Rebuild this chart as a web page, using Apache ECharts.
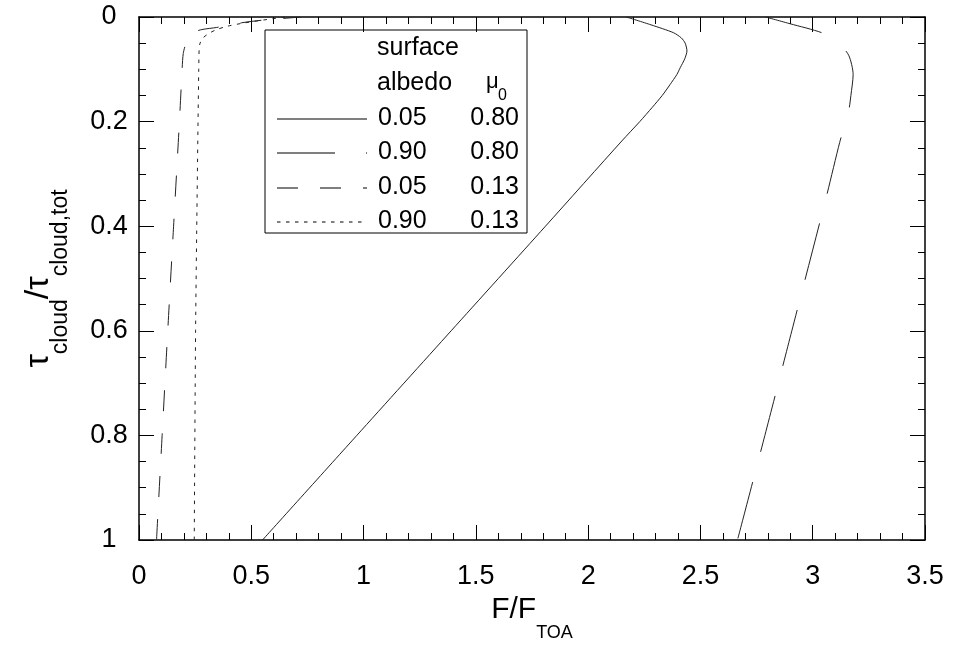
<!DOCTYPE html>
<html>
<head>
<meta charset="utf-8">
<script src="https://cdn.jsdelivr.net/npm/echarts@6/dist/echarts.min.js"></script>
<style>
  html, body { margin: 0; padding: 0; background: #fff; }
  #chart { width: 960px; height: 656px; }
</style>
</head>
<body>
<div id="chart"></div>
<script>
// tick labels / axis ranges
var xTicks = [0, 0.5, 1, 1.5, 2, 2.5, 3, 3.5];
var yTicks = [0, 0.2, 0.4, 0.6, 0.8, 1];

// legend table
var albedoCol = ['0.05', '0.90', '0.05', '0.90'];
var mu0Col = ['0.80', '0.80', '0.13', '0.13'];

// curve 1: albedo 0.05, mu0 0.80 (solid)
var tau1 = [1, 0.8, 0.6, 0.4, 0.237, 0.2, 0.173, 0.15, 0.129, 0.11, 0.097, 0.08, 0.065, 0.05, 0.04, 0.03, 0.015, 0];
var flux1 = [0.55, 0.97, 1.39, 1.81, 2.15, 2.23, 2.285, 2.33, 2.365, 2.395, 2.41, 2.43, 2.44, 2.432, 2.415, 2.38, 2.28, 2.17];

// curve 2: albedo 0.90, mu0 0.80 (long dash + short)
var tau2 = [0, 0.013, 0.03, 0.048, 0.073, 0.11, 0.15, 0.18, 0.24, 0.345, 0.6, 0.8, 1];
var flux2 = [2.79, 2.90, 3.04, 3.11, 3.16, 3.18, 3.17, 3.16, 3.12, 3.06, 2.907, 2.787, 2.665];

// curve 3: albedo 0.05, mu0 0.13 (dashed)
var tau3 = [1, 0.8, 0.6, 0.4, 0.2, 0.1, 0.07, 0.05, 0.03, 0.024, 0.02, 0.011, 0.006, 0.0025, 0];
var flux3 = [0.078, 0.103, 0.128, 0.154, 0.18, 0.192, 0.197, 0.21, 0.242, 0.28, 0.346, 0.457, 0.55, 0.65, 0.72];

// curve 4: albedo 0.90, mu0 0.13 (dotted)
var tau4 = [1, 0.6, 0.3, 0.1, 0.06, 0.05, 0.04, 0.032, 0.025, 0.018, 0.012, 0.006, 0];
var flux4 = [0.246, 0.252, 0.26, 0.266, 0.268, 0.272, 0.285, 0.309, 0.34, 0.39, 0.46, 0.55, 0.65];

var dashes = ['solid', [58, 31], [21, 22], [3.5, 5.5]];
var curves = [[flux1, tau1], [flux2, tau2], [flux3, tau3], [flux4, tau4]];

var FONT = '"Liberation Sans", Arial, Helvetica, sans-serif';

function zip(xs, ys) {
  return xs.map(function (x, i) { return [x, ys[i]]; });
}

var chart = echarts.init(document.getElementById('chart'));

var series = curves.map(function (c, i) {
  return {
    type: 'line',
    data: zip(c[0], c[1]),
    showSymbol: false,
    symbol: 'none',
    smooth: 0.25,
    lineStyle: { color: '#222', width: 1, type: dashes[i] },
    z: 2
  };
});

function axisBase(extra) {
  var a = {
    type: 'value',
    axisLine: { show: true, onZero: false, lineStyle: { color: '#000', width: 1.5 } },
    axisTick: { show: true, inside: true, length: 15, lineStyle: { color: '#000', width: 1 } },
    minorTick: { show: true, length: 7, lineStyle: { color: '#000', width: 1 } },
    splitLine: { show: false },
    minorSplitLine: { show: false }
  };
  return Object.assign(a, extra);
}

// legend drawn as a small table
var LF = '25px ' + FONT;
var legendItems = [
  { type: 'rect', shape: { x: 265, y: 30, width: 262, height: 203 },
    style: { fill: '#fff', stroke: '#000', lineWidth: 1 } },
  { type: 'text', x: 377, y: 48, style: { text: 'surface', font: LF, fill: '#000', verticalAlign: 'middle' } },
  { type: 'text', x: 377, y: 83, style: { text: 'albedo', font: LF, fill: '#000', verticalAlign: 'middle' } },
  { type: 'text', x: 486, y: 82, style: { text: 'μ', font: '22px ' + FONT, fill: '#000', verticalAlign: 'middle' } },
  { type: 'text', x: 498, y: 96, style: { text: '0', font: '16px ' + FONT, fill: '#000', verticalAlign: 'middle' } }
];
var rowY = [118, 152, 187, 221];
albedoCol.forEach(function (a, i) {
  legendItems.push({ type: 'line', shape: { x1: 277, y1: rowY[i] + 1, x2: 367, y2: rowY[i] + 1 },
    style: { stroke: '#000', lineWidth: 1.2, lineDash: dashes[i] === 'solid' ? null : dashes[i] } });
  legendItems.push({ type: 'text', x: 378, y: rowY[i], style: { text: a, font: LF, fill: '#000', verticalAlign: 'middle' } });
  legendItems.push({ type: 'text', x: 519, y: rowY[i], style: { text: mu0Col[i], font: LF, fill: '#000', align: 'right', verticalAlign: 'middle' } });
});

var option = {
  animation: false,
  backgroundColor: '#fff',
  grid: { left: 139, right: 35, top: 17, bottom: 116, containLabel: false, outerBoundsMode: 'none' },
  xAxis: [
    axisBase({
      position: 'bottom', min: xTicks[0], max: xTicks[xTicks.length - 1], interval: xTicks[1] - xTicks[0],
      minorTick: { show: true, splitNumber: 5, length: 7, lineStyle: { color: '#000', width: 1 } },
      axisLabel: { fontSize: 27, color: '#000', fontFamily: FONT, margin: 23 },
      name: '{m|F/F}{s|TOA}', nameLocation: 'middle', nameGap: 52,
      nameTextStyle: {
        rich: {
          m: { fontSize: 30, fontFamily: FONT, color: '#000', lineHeight: 47, verticalAlign: 'top' },
          s: { fontSize: 18, fontFamily: FONT, color: '#000', lineHeight: 20, verticalAlign: 'bottom' }
        }
      }
    }),
    axisBase({
      position: 'top', min: xTicks[0], max: xTicks[xTicks.length - 1], interval: xTicks[1] - xTicks[0],
      minorTick: { show: true, splitNumber: 5, length: 7, lineStyle: { color: '#000', width: 1 } },
      axisLabel: { show: false }
    })
  ],
  yAxis: [
    axisBase({
      position: 'left', inverse: true, min: yTicks[0], max: yTicks[yTicks.length - 1], interval: yTicks[1] - yTicks[0],
      minorTick: { show: true, splitNumber: 4, length: 7, lineStyle: { color: '#000', width: 1 } },
      axisLabel: { fontSize: 27, color: '#000', fontFamily: FONT, margin: 30, align: 'center' },
      name: '{m|τ}{s|cloud}{m|/τ}{s|cloud,tot}', nameLocation: 'middle', nameGap: 67, nameRotate: 90,
      nameTextStyle: {
        rich: {
          m: { fontSize: 34, fontFamily: FONT, color: '#000', lineHeight: 50, verticalAlign: 'top' },
          s: { fontSize: 23, fontFamily: FONT, color: '#000', lineHeight: 22, verticalAlign: 'bottom' }
        }
      }
    }),
    axisBase({
      position: 'right', inverse: true, min: yTicks[0], max: yTicks[yTicks.length - 1], interval: yTicks[1] - yTicks[0],
      minorTick: { show: true, splitNumber: 4, length: 7, lineStyle: { color: '#000', width: 1 } },
      axisLabel: { show: false }
    })
  ],
  series: series,
  graphic: [{ type: 'group', z: 10, children: legendItems }]
};

chart.setOption(option);
</script>
</body>
</html>
